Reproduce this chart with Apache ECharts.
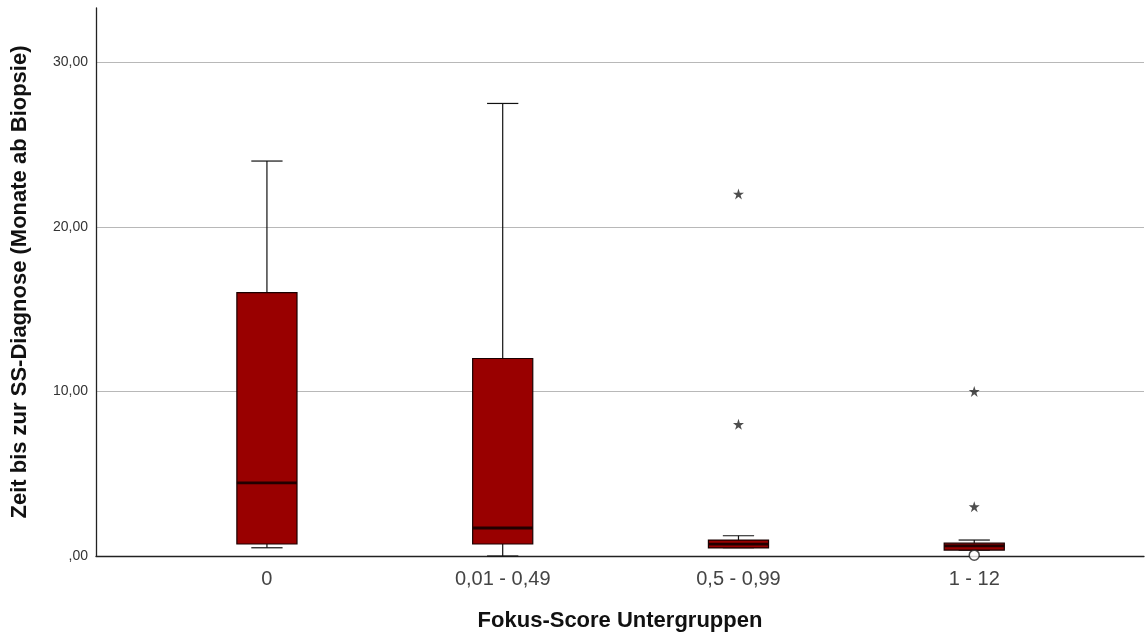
<!DOCTYPE html>
<html>
<head>
<meta charset="utf-8">
<script src="https://cdn.jsdelivr.net/npm/echarts@6/dist/echarts.min.js"></script>
<style>
html,body{margin:0;padding:0;background:#fff;}
#chart{width:1148px;height:639px;}
</style>
</head>
<body>
<div id="chart"></div>
<script>
const categories = ['0', '0,01 - 0,49', '0,5 - 0,99', '1 - 12'];
const whiskerMin = [0.5, 0.0, 0.5, 0.36];
const q1 = [0.73, 0.73, 0.49, 0.36];
const median = [4.44, 1.7, 0.72, 0.62];
const q3 = [16.0, 12.0, 0.97, 0.78];
const whiskerMax = [24.0, 27.5, 1.23, 0.97];
const extremeGroup = [3, 3, 4, 4];
const extremeValue = [22.0, 8.0, 10.0, 3.0];
const outlierGroup = [4];
const outlierValue = [0.05];
const yTicks = [0, 10, 20, 30];

const boxData = categories.map((c, i) => [i + 1, whiskerMin[i], q1[i], median[i], q3[i], whiskerMax[i]]);
const extremeData = extremeGroup.map((g, i) => [g, extremeValue[i]]);
const outlierData = outlierGroup.map((g, i) => [g, outlierValue[i]]);

const starPath = 'path://M50,0 L61.8,36.2 L100,36.2 L69.1,58.6 L80.9,95.1 L50,72.7 L19.1,95.1 L30.9,58.6 L0,36.2 L38.2,36.2 Z';
const FONT = 'Liberation Sans, Arial, sans-serif';

const chart = echarts.init(document.getElementById('chart'), null, {renderer: 'canvas'});
chart.setOption({
  animation: false,
  backgroundColor: '#ffffff',
  grid: {left: 96, right: 4, top: 8, bottom: 83, containLabel: false},
  xAxis: {
    type: 'value',
    min: 0.275,
    max: 4.72,
    name: 'Fokus-Score Untergruppen',
    nameLocation: 'middle',
    nameGap: 54,
    nameTextStyle: {fontFamily: FONT, fontSize: 22, fontWeight: 'bold', color: '#111'},
    axisLine: {show: true, lineStyle: {color: '#222', width: 1.3}},
    axisTick: {show: false},
    splitLine: {show: false},
    axisLabel: {
      customValues: [1, 2, 3, 4],
      formatter: v => categories[Math.round(v) - 1] || '',
      fontFamily: FONT,
      fontSize: 20,
      color: '#444',
      margin: 13
    }
  },
  yAxis: {
    type: 'value',
    min: 0,
    max: 33.3,
    interval: 10,
    name: 'Zeit bis zur SS-Diagnose (Monate ab Biopsie)',
    nameLocation: 'middle',
    nameGap: 65,
    nameTextStyle: {fontFamily: FONT, fontSize: 22, fontWeight: 'bold', color: '#111'},
    axisLine: {show: true, lineStyle: {color: '#222', width: 1.3}},
    axisTick: {show: false},
    splitLine: {show: true, showMinLine: false, showMaxLine: false, lineStyle: {color: '#b8b8b8', width: 1}},
    axisLabel: {
      customValues: yTicks,
      formatter: v => v === 0 ? ',00' : v.toFixed(2).replace('.', ','),
      fontFamily: FONT,
      fontSize: 14,
      color: '#333',
      margin: 8
    }
  },
  series: [
    {
      type: 'custom',
      data: boxData,
      z: 3,
      renderItem: function (params, api) {
        const x = api.value(0);
        const pMin = api.coord([x, api.value(1)]);
        const pQ1 = api.coord([x, api.value(2)]);
        const pMed = api.coord([x, api.value(3)]);
        const pQ3 = api.coord([x, api.value(4)]);
        const pMax = api.coord([x, api.value(5)]);
        const unit = api.size([1, 0])[0];
        const bw = unit * 0.255;
        const cw = bw * 0.52;
        const cx = pQ1[0];
        const lineStyle = {stroke: '#111', lineWidth: 1.2, fill: null};
        return {
          type: 'group',
          children: [
            {type: 'line', shape: {x1: cx, y1: pQ3[1], x2: cx, y2: pMax[1]}, style: lineStyle},
            {type: 'line', shape: {x1: cx, y1: pQ1[1], x2: cx, y2: pMin[1]}, style: lineStyle},
            {type: 'line', shape: {x1: cx - cw / 2, y1: pMax[1], x2: cx + cw / 2, y2: pMax[1]}, style: lineStyle},
            {type: 'line', shape: {x1: cx - cw / 2, y1: pMin[1], x2: cx + cw / 2, y2: pMin[1]}, style: lineStyle},
            {type: 'rect', shape: {x: cx - bw / 2, y: pQ3[1], width: bw, height: pQ1[1] - pQ3[1]},
              style: {fill: '#990000', stroke: '#1a0000', lineWidth: 1.2}},
            {type: 'line', shape: {x1: cx - bw / 2, y1: pMed[1], x2: cx + bw / 2, y2: pMed[1]},
              style: {stroke: '#220000', lineWidth: 2.8}}
          ]
        };
      }
    },
    {
      type: 'scatter',
      data: extremeData,
      symbol: starPath,
      symbolSize: 11,
      itemStyle: {color: '#222'},
      z: 4
    },
    {
      type: 'scatter',
      data: outlierData,
      symbol: 'circle',
      symbolSize: 10,
      itemStyle: {color: '#fff', borderColor: '#222', borderWidth: 1.5},
      z: 4
    }
  ]
});
</script>
</body>
</html>
